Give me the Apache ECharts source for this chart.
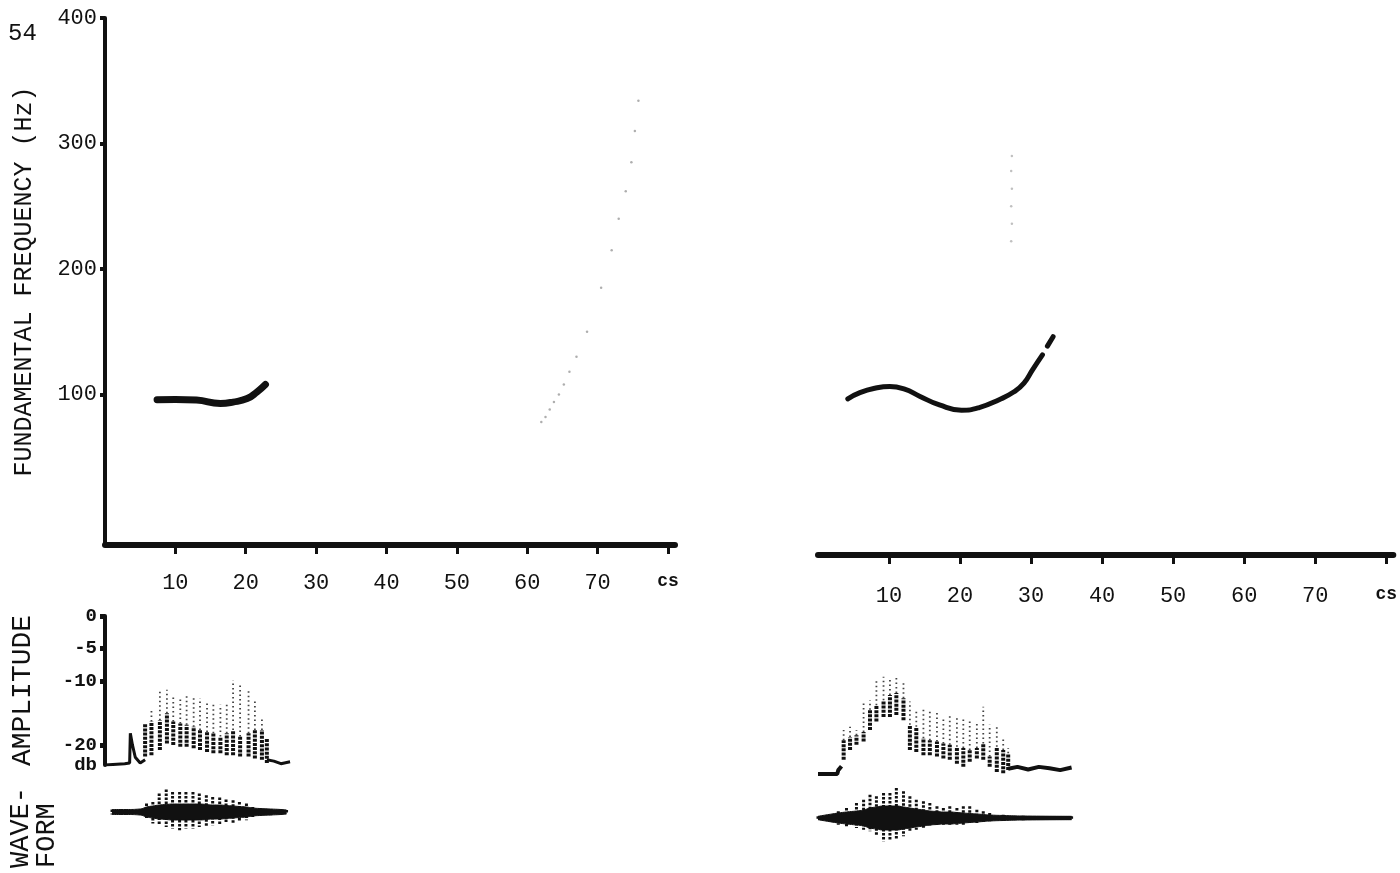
<!DOCTYPE html>
<html lang="en">
<head>
    <meta charset="UTF-8">
    <title>Fundamental frequency, amplitude and waveform</title>
    <script src="https://cdn.jsdelivr.net/npm/echarts@6/dist/echarts.min.js"></script>
    <style>
        html, body { margin: 0; padding: 0; background: #fff; }
    </style>
</head>
<body>
<div id="mybox" style="height: 873px;width: 1400px;"></div>
<script>
    // ---- data ----
    // time in cs, frequency in Hz
    var f0LeftTime = [7.4, 10, 13, 16.4, 18.2, 20.2, 21.6, 22.8];
    var f0LeftHz = [95.8, 96, 95.5, 92.8, 93.9, 96.7, 102, 107.9];

    var f0RightTime = [4.2, 5.9, 8.0, 10.1, 12.2, 14.3, 17.1, 20.2, 22.7, 25.5, 27.6, 29.0, 30.2, 31.6];
    var f0RightHz = [96.5, 101.4, 104.9, 106.3, 104.2, 98.6, 91.6, 87.4, 89.5, 95.8, 102.1, 109, 119.6, 131.5];
    var f0RightEndTime = [32.3, 33.1];
    var f0RightEndHz = [138.5, 146];

    // faint speckle traces
    var faintLeftTime = [62, 62.6, 63.2, 63.8, 64.5, 65.2, 66, 67, 68.5, 70.5, 72, 73, 74, 74.8, 75.3, 75.8];
    var faintLeftHz = [78, 82, 88, 94, 100, 108, 118, 130, 150, 185, 215, 240, 262, 285, 310, 334];
    var faintRightTime = [27.2, 27.3, 27.2, 27.3, 27.2, 27.3];
    var faintRightHz = [222, 236, 250, 264, 278, 290];

    var hzTicks = [100, 200, 300, 400];
    var csTicks = [10, 20, 30, 40, 50, 60, 70, 80];
    var dbTicks = [0, -5, -10, -20];
    var dbFloor = -23;

    // amplitude pulses (dB): dense low / dense high / faint top
    var ampLeftTime = [5.7, 6.6, 7.8, 8.8, 9.7, 10.7, 11.6, 12.6, 13.5, 14.5, 15.4, 16.4, 17.3, 18.2, 19.2, 20.4, 21.3, 22.3, 23.0];
    var ampLeftLow = [-21.7, -21.5, -20.7, -19.7, -19.9, -20.2, -20.2, -20.4, -20.7, -21.0, -21.2, -21.2, -21.5, -21.5, -21.7, -21.7, -22.0, -22.2, -22.7];
    var ampLeftHigh = [-16.6, -16.3, -16.1, -15.0, -16.3, -16.6, -16.8, -17.1, -17.6, -17.9, -18.1, -18.6, -18.1, -17.6, -18.6, -18.1, -17.6, -17.6, -18.9];
    var ampLeftPeak = [-16.6, -14.2, -11.4, -11.4, -12.5, -12.5, -12.2, -12.5, -12.7, -13.2, -13.7, -13.7, -13.5, -9.9, -10.7, -11.4, -13.0, -15.5, -18.9];
    var ampLeftFloorTime = [0, 2.8, 3.5, 3.6, 3.9, 4.3, 5.0, 5.7, null, 23.0, 24, 25, 26.3];
    var ampLeftFloorDb = [-23, -22.8, -22.7, -18.1, -19.9, -21.8, -22.7, -22.2, null, -22.2, -22.4, -22.8, -22.5];

    var ampRightTime = [3.6, 4.5, 5.4, 6.4, 7.3, 8.2, 9.2, 10.1, 11.0, 12.0, 12.9, 13.8, 14.8, 15.7, 16.7, 17.6, 18.5, 19.5, 20.4, 21.3, 22.3, 23.2, 24.1, 25.1, 26.0, 26.7];
    var ampRightLow = [-20.8, -19.3, -18.5, -18.0, -16.2, -14.9, -14.2, -14.2, -13.9, -14.7, -19.3, -19.6, -20.1, -20.1, -20.3, -20.6, -20.8, -21.4, -21.9, -21.1, -20.6, -20.8, -21.9, -22.7, -22.9, -22.4];
    var ampRightHigh = [-17.8, -17.3, -17.0, -16.5, -13.1, -12.4, -11.6, -10.8, -10.5, -11.3, -15.4, -15.7, -17.5, -17.8, -18.0, -18.3, -18.5, -18.8, -19.0, -19.3, -19.0, -18.3, -20.3, -18.8, -19.3, -19.8];
    var ampRightPeak = [-16.2, -15.7, -16.2, -12.1, -11.6, -8.5, -8.0, -8.5, -7.7, -9.0, -11.8, -13.1, -13.1, -13.1, -13.6, -14.4, -13.9, -14.2, -14.4, -14.9, -15.2, -12.6, -15.4, -15.7, -17.2, -19.0];
    var ampRightFloorTime = [0, 2.7, 2.85, 3.3, null, 26.7, 28, 29.5, 31, 32.5, 34, 35.6];
    var ampRightFloorDb = [-23, -23, -22.4, -21.8, null, -22.2, -21.9, -22.3, -21.9, -22.1, -22.4, -22.0];

    // waveform envelope (relative units): spike top / spike bottom / solid body
    var waveLeftTime = [1.0, 3.0, 5.0, 5.9, 6.8, 7.7, 8.7, 9.6, 10.6, 11.5, 12.5, 13.4, 14.4, 15.3, 16.3, 17.2, 18.2, 19.1, 20.1, 21.0, 22.0, 23.5, 25.0, 25.8];
    var waveLeftTop = [2.5, 2.5, 3, 8.4, 10.0, 18.4, 22.4, 20.0, 20.0, 20.0, 20.0, 18.4, 16.7, 15.0, 14.4, 12.4, 11.7, 10.0, 8.4, 5.0, 3.4, 2.5, 2.5, 2];
    var waveLeftBottom = [-2.5, -2.5, -3, -6.6, -11.6, -13.3, -15.0, -16.6, -18.3, -16.6, -16.6, -15.0, -15.0, -13.3, -13.3, -11.6, -11.6, -10.0, -8.3, -5.0, -4.3, -3.3, -2.5, -2];
    var waveLeftBody = [2.5, 2.5, 3, 5, 6, 7, 7.5, 8, 8, 8, 8, 8, 7.5, 7, 7, 6.5, 6, 5.5, 5, 4, 3.5, 3, 2.5, 2];

    var waveRightTime = [0, 2.85, 4.0, 5.4, 6.4, 7.3, 8.2, 9.2, 10.1, 11.0, 12.0, 12.9, 13.8, 14.8, 15.7, 16.7, 17.6, 18.5, 19.5, 20.4, 21.3, 22.3, 23.2, 24.1, 26.0, 28.8, 35.6];
    var waveRightTop = [1.7, 6.7, 10, 15, 18.3, 23.3, 21.7, 25, 25, 30, 26.7, 21.7, 18.3, 16.7, 15, 11.7, 10, 11.7, 10, 11.7, 11.7, 8.3, 6.7, 5, 3.3, 2.3, 1.7];
    var waveRightBottom = [-1.7, -6.7, -8.3, -10, -11.7, -13.3, -18.3, -23.3, -21.7, -21.7, -18.3, -13.3, -11.7, -10, -8.3, -8.3, -6.7, -6.7, -6.7, -6.7, -5, -5, -4, -3.3, -2.7, -2.3, -1.7];
    var waveRightBody = [1.7, 5, 6, 7, 8, 10, 11, 12, 12, 12, 11, 10, 9, 8, 7, 6.5, 6, 6, 5.5, 5, 4.5, 4, 3.5, 3, 2.5, 2, 1.7];

    // ---- helpers ----
    function pairs(xs, ys) {
        var out = [];
        for (var i = 0; i < xs.length; i++) {
            out.push(xs[i] == null ? [null, null] : [xs[i], ys[i]]);
        }
        return out;
    }
    function rows(xs, a, b, c) {
        var out = [];
        for (var i = 0; i < xs.length; i++) {
            out.push(c ? [xs[i], a[i], b[i], c[i]] : [xs[i], a[i], b[i]]);
        }
        return out;
    }
    function negate(arr) {
        return arr.map(function (v) { return -v; });
    }
    // centre line of a waveform: start and end of the trace at 0
    function centre(xs) {
        return [[xs[0], 0], [xs[xs.length - 1], 0]];
    }

    var font = '"Liberation Mono", "DejaVu Sans Mono", monospace';
    var ink = '#111';

    // vertical pulse columns for the amplitude trace
    function renderPulse(params, api) {
        var t = api.value(0);
        var lo = api.coord([t, api.value(1)]);
        var hi = api.coord([t, api.value(2)]);
        var pk = api.coord([t, api.value(3)]);
        return {
            type: 'group',
            children: [
                { type: 'line', shape: { x1: hi[0], y1: hi[1], x2: pk[0], y2: pk[1] },
                  style: { stroke: '#444', lineWidth: 1.8, lineDash: [1.5, 3] } },
                { type: 'line', shape: { x1: lo[0], y1: lo[1], x2: hi[0], y2: hi[1] },
                  style: { stroke: ink, lineWidth: 4, lineDash: [3, 1.2] } }
            ]
        };
    }
    // vertical spikes for the waveform
    function renderSpike(params, api) {
        var t = api.value(0);
        var top = api.coord([t, api.value(1)]);
        var bot = api.coord([t, api.value(2)]);
        return {
            type: 'line',
            shape: { x1: top[0], y1: top[1], x2: bot[0], y2: bot[1] },
            style: { stroke: ink, lineWidth: 3, lineDash: [2.5, 1.5] }
        };
    }

    var mychart = echarts.init(document.getElementById('mybox'));

    function hiddenX(grid) {
        return { gridIndex: grid, type: 'value', min: 0, max: 81, show: false };
    }
    function timeAxis(grid, offset, margin) {
        return {
            gridIndex: grid, type: 'value', min: 0, max: 81, offset: offset,
            splitLine: { show: false },
            axisLine: { onZero: false, lineStyle: { color: ink, width: 6 } },
            axisTick: { customValues: csTicks, length: 9, lineStyle: { color: ink, width: 3 } },
            axisLabel: {
                customValues: csTicks, margin: margin, color: ink, fontFamily: font, fontSize: 22,
                formatter: function (v) { return v === 80 ? '{u|cs}' : v; },
                rich: { u: { fontFamily: font, fontSize: 18, color: ink, fontWeight: 'bold' } }
            }
        };
    }

    mychart.setOption({
        animation: false,
        backgroundColor: '#fff',
        grid: [
            { left: 105, top: 18, width: 570, height: 527 },
            { left: 818, top: 18, width: 577, height: 527 },
            { left: 105, top: 616, width: 570, height: 149 },
            { left: 818, top: 625, width: 577, height: 149 },
            { left: 105, top: 782, width: 570, height: 60 },
            { left: 818, top: 788, width: 577, height: 60 }
        ],
        graphic: [
            { type: 'text', left: 8, top: 22,
              style: { text: '54', font: '24px ' + font, fill: ink } },
            { type: 'text', x: 8, y: 868, rotation: Math.PI / 2,
              style: { text: 'WAVE-\nFORM', font: '27px ' + font, fill: ink, lineHeight: 26 } }
        ],
        xAxis: [
            timeAxis(0, 0, 27),
            timeAxis(1, 10, 30),
            hiddenX(2), hiddenX(3), hiddenX(4), hiddenX(5)
        ],
        yAxis: [
            {
                gridIndex: 0, type: 'value', min: -20, max: 400,
                name: 'FUNDAMENTAL FREQUENCY (Hz)', nameLocation: 'middle', nameRotate: 90, nameGap: 68,
                nameTextStyle: { fontFamily: font, fontSize: 25, color: ink },
                splitLine: { show: false },
                axisLine: { onZero: false, lineStyle: { color: ink, width: 4 } },
                axisTick: { customValues: hzTicks, length: 5, lineStyle: { color: ink, width: 4 } },
                axisLabel: { customValues: hzTicks, margin: 8, color: ink, fontFamily: font, fontSize: 22 }
            },
            { gridIndex: 1, type: 'value', min: -20, max: 400, show: false },
            {
                gridIndex: 2, type: 'value', min: dbFloor, max: 0,
                name: 'AMPLITUDE', nameLocation: 'middle', nameRotate: 90, nameGap: 68,
                nameTextStyle: { fontFamily: font, fontSize: 28, color: ink },
                splitLine: { show: false },
                axisLine: { onZero: false, lineStyle: { color: ink, width: 4 } },
                axisTick: { customValues: dbTicks, length: 5, lineStyle: { color: ink, width: 5 } },
                axisLabel: {
                    customValues: dbTicks.concat([dbFloor]), margin: 8, color: ink,
                    fontFamily: font, fontSize: 19, fontWeight: 'bold',
                    hideOverlap: false, showMinLabel: true, showMaxLabel: true,
                    formatter: function (v) { return v === dbFloor ? 'db' : v; }
                }
            },
            { gridIndex: 3, type: 'value', min: dbFloor, max: 0, show: false },
            { gridIndex: 4, type: 'value', min: -30, max: 30, show: false },
            { gridIndex: 5, type: 'value', min: -30, max: 30, show: false }
        ],
        series: [
            // fundamental frequency contours
            { name: 'f0 left', type: 'line', xAxisIndex: 0, yAxisIndex: 0, smooth: true, symbol: 'none',
              data: pairs(f0LeftTime, f0LeftHz), lineStyle: { color: ink, width: 7, cap: 'round' } },
            { name: 'f0 right', type: 'line', xAxisIndex: 1, yAxisIndex: 1, smooth: true, symbol: 'none',
              data: pairs(f0RightTime, f0RightHz), lineStyle: { color: ink, width: 5, cap: 'round' } },
            { name: 'f0 right end', type: 'line', xAxisIndex: 1, yAxisIndex: 1, symbol: 'none',
              data: pairs(f0RightEndTime, f0RightEndHz), lineStyle: { color: ink, width: 5, cap: 'round' } },
            { name: 'faint left', type: 'scatter', xAxisIndex: 0, yAxisIndex: 0, symbolSize: 2.5,
              data: pairs(faintLeftTime, faintLeftHz), itemStyle: { color: '#9a9a9a' } },
            { name: 'faint right', type: 'scatter', xAxisIndex: 1, yAxisIndex: 1, symbolSize: 2.5,
              data: pairs(faintRightTime, faintRightHz), itemStyle: { color: '#b0b0b0' } },

            // amplitude traces
            { name: 'amp floor left', type: 'line', xAxisIndex: 2, yAxisIndex: 2, symbol: 'none', connectNulls: false,
              data: pairs(ampLeftFloorTime, ampLeftFloorDb), lineStyle: { color: ink, width: 3 } },
            { name: 'amp left', type: 'custom', xAxisIndex: 2, yAxisIndex: 2, renderItem: renderPulse,
              data: rows(ampLeftTime, ampLeftLow, ampLeftHigh, ampLeftPeak) },
            { name: 'amp floor right', type: 'line', xAxisIndex: 3, yAxisIndex: 3, symbol: 'none', connectNulls: false,
              data: pairs(ampRightFloorTime, ampRightFloorDb), lineStyle: { color: ink, width: 4 } },
            { name: 'amp right', type: 'custom', xAxisIndex: 3, yAxisIndex: 3, renderItem: renderPulse,
              data: rows(ampRightTime, ampRightLow, ampRightHigh, ampRightPeak) },

            // waveforms
            { name: 'wave centre left', type: 'line', xAxisIndex: 4, yAxisIndex: 4, symbol: 'none',
              data: centre(waveLeftTime), lineStyle: { color: ink, width: 4 } },
            { name: 'wave body left +', type: 'line', xAxisIndex: 4, yAxisIndex: 4, symbol: 'none', smooth: true,
              data: pairs(waveLeftTime, waveLeftBody), lineStyle: { color: ink, width: 1 }, areaStyle: { color: ink, opacity: 1, origin: 0 } },
            { name: 'wave body left -', type: 'line', xAxisIndex: 4, yAxisIndex: 4, symbol: 'none', smooth: true,
              data: pairs(waveLeftTime, negate(waveLeftBody)), lineStyle: { color: ink, width: 1 }, areaStyle: { color: ink, opacity: 1, origin: 0 } },
            { name: 'wave left', type: 'custom', xAxisIndex: 4, yAxisIndex: 4, renderItem: renderSpike,
              data: rows(waveLeftTime, waveLeftTop, waveLeftBottom) },
            { name: 'wave centre right', type: 'line', xAxisIndex: 5, yAxisIndex: 5, symbol: 'none',
              data: centre(waveRightTime), lineStyle: { color: ink, width: 4 } },
            { name: 'wave body right +', type: 'line', xAxisIndex: 5, yAxisIndex: 5, symbol: 'none', smooth: true,
              data: pairs(waveRightTime, waveRightBody), lineStyle: { color: ink, width: 1 }, areaStyle: { color: ink, opacity: 1, origin: 0 } },
            { name: 'wave body right -', type: 'line', xAxisIndex: 5, yAxisIndex: 5, symbol: 'none', smooth: true,
              data: pairs(waveRightTime, negate(waveRightBody)), lineStyle: { color: ink, width: 1 }, areaStyle: { color: ink, opacity: 1, origin: 0 } },
            { name: 'wave right', type: 'custom', xAxisIndex: 5, yAxisIndex: 5, renderItem: renderSpike,
              data: rows(waveRightTime, waveRightTop, waveRightBottom) }
        ]
    });
</script>
</body>
</html>
